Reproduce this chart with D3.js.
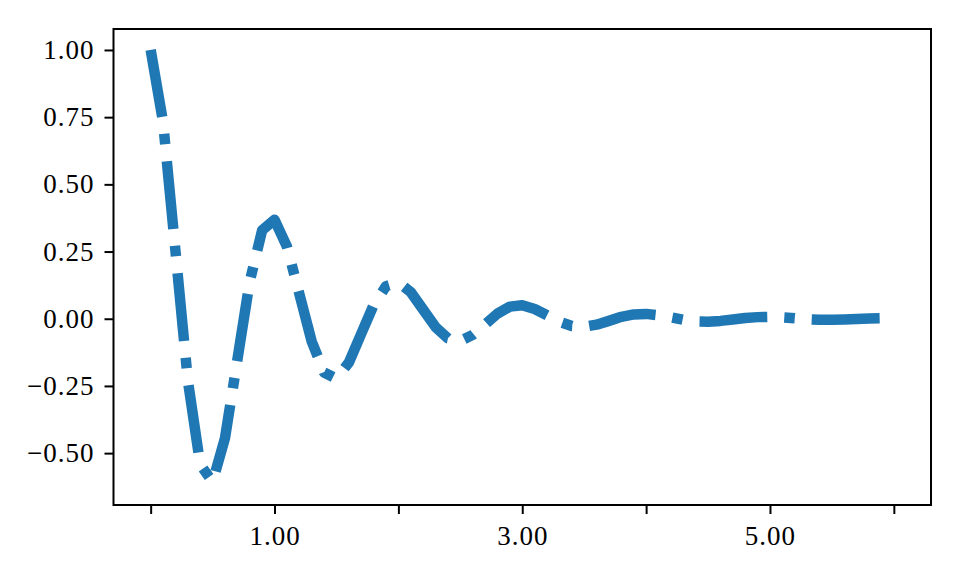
<!DOCTYPE html>
<html>
<head>
<meta charset="utf-8">
<script src="https://cdn.jsdelivr.net/npm/d3@7"></script>
<style>
html,body{margin:0;padding:0;background:#fff;}
svg{display:block;}
.tick text{font-family:"Liberation Serif","DejaVu Serif",serif;}
</style>
</head>
<body>
<svg id="chart" width="960" height="576"></svg>
<script>
// x positions of the samples
const tValues = [0.0,0.1,0.2,0.3,0.4,0.5,0.6,0.7,0.8,0.9,
  1.0,1.1,1.2,1.3,1.4,1.5,1.6,1.7,1.8,1.9,
  2.0,2.1,2.2,2.3,2.4,2.5,2.6,2.7,2.8,2.9,
  3.0,3.1,3.2,3.3,3.4,3.5,3.6,3.7,3.8,3.9,
  4.0,4.1,4.2,4.3,4.4,4.5,4.6,4.7,4.8,4.9,
  5.0,5.1,5.2,5.3,5.4,5.5,5.6,5.7,5.8,5.9,6.0];
// y values
const yValues = [1.0,0.732,0.253,-0.229,-0.542,-0.607,-0.444,-0.153,0.139,0.329,
  0.368,0.269,0.093,-0.084,-0.200,-0.223,-0.163,-0.056,0.051,0.121,
  0.135,0.099,0.034,-0.031,-0.073,-0.082,-0.060,-0.021,0.019,0.045,
  0.050,0.036,0.013,-0.011,-0.027,-0.030,-0.022,-0.008,0.007,0.016,
  0.018,0.013,0.005,-0.004,-0.010,-0.011,-0.008,-0.003,0.003,0.006,
  0.007,0.005,0.002,-0.002,-0.004,-0.004,-0.003,-0.001,0.001,0.002,0.002];
const xTickValues = [0,1,2,3,4,5,6];
const xTickLabels = ["","1.00","","3.00","","5.00",""];
const yTickValues = [-0.5,-0.25,0,0.25,0.5,0.75,1.0];

const svg = d3.select("#chart");
const plotL = 113.5, plotR = 931, plotT = 29, plotB = 505;

const x = d3.scaleLinear().domain([-0.3, 6.3]).range([plotL, plotR]);
const y = d3.scaleLinear().domain([-0.693, 1.078]).range([plotB, plotT]);

const fmtY = v => {
  const s = Math.abs(v).toFixed(2);
  return (v < 0 ? "\u2212" : "") + s;
};

// line
const data = tValues.map((t,i)=>[t, yValues[i]]);
svg.append("path")
  .datum(data)
  .attr("fill","none")
  .attr("stroke","#1f77b4")
  .attr("stroke-width",10.5)
  .attr("stroke-linejoin","round")
  .attr("stroke-linecap","butt")
  .attr("stroke-dasharray","68,17,10.5,17")
  .attr("d", d3.line().x(d=>x(d[0])).y(d=>y(d[1])));

// axes
const xAxis = d3.axisBottom(x).tickValues(xTickValues)
  .tickFormat((d,i)=>xTickLabels[i]).tickSize(9).tickPadding(8);
const yAxis = d3.axisLeft(y).tickValues(yTickValues)
  .tickFormat(fmtY).tickSize(9).tickPadding(10);

const gx = svg.append("g").attr("transform",`translate(0,${plotB})`).call(xAxis);
const gy = svg.append("g").attr("transform",`translate(${plotL},0)`).call(yAxis);
[gx,gy].forEach(g=>{
  g.select(".domain").remove();
  g.selectAll(".tick line").attr("stroke","#000").attr("stroke-width",2);
  g.selectAll(".tick text").attr("fill","#000")
    .style("font-size","27px").style("letter-spacing","1px");
});
gx.selectAll(".tick text").attr("dy","0.85em");

// frame
svg.append("rect")
  .attr("x",plotL).attr("y",plotT)
  .attr("width",plotR-plotL).attr("height",plotB-plotT)
  .attr("fill","none").attr("stroke","#000").attr("stroke-width",2);
</script>
</body>
</html>
